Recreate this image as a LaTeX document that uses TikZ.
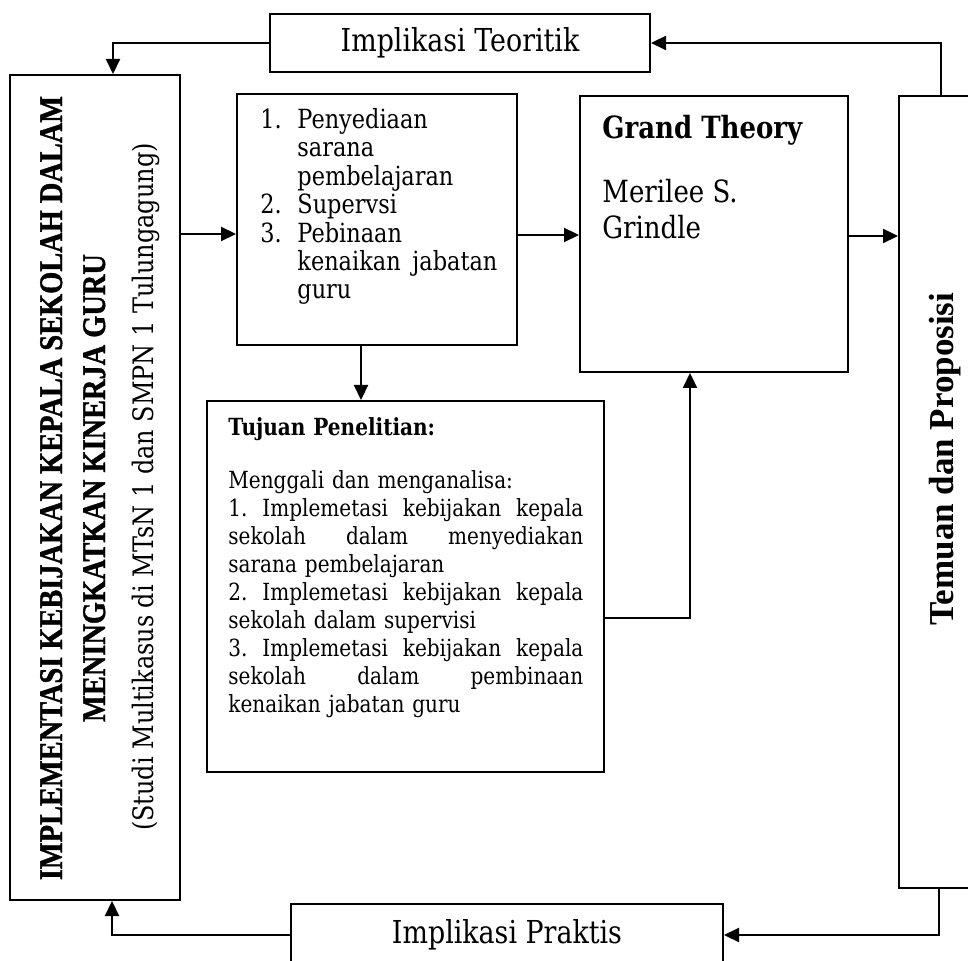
\documentclass[tikz,border=0pt]{standalone}
\usepackage{fontspec}
\usepackage{graphicx}
\setmainfont{Liberation Serif}
\newfontfamily\cmb[FakeStretch=0.85]{DejaVu Serif}
\newcommand{\sempit}[1]{\scalebox{0.86}[1]{#1}}
\usetikzlibrary{arrows.meta}

\begin{document}
\begin{tikzpicture}[x=0.5pt, y=-0.5pt,
    kotak/.style={draw, line width=1pt, inner sep=0pt},
    teks/.style={anchor=north west, inner sep=0pt, align=left},
    panah/.style={line width=1.1pt, -{Triangle[length=7.5pt,width=7pt]}}]
                \useasboundingbox (0,0) rectangle (968,961);
                \clip (0,0) rectangle (968,961);

                \node[kotak, minimum width=190pt, minimum height=29pt,
                    font={\cmb\fontsize{15.8}{18}\selectfont}] (teoritik) at (460,43) {Implikasi Teoritik};
                \node[kotak, minimum width=216pt, minimum height=31pt,
                    font={\cmb\fontsize{15.8}{18}\selectfont}] (praktis) at (507,935) {Implikasi Praktis};

                \node[kotak, minimum width=85pt, minimum height=412.5pt] (judul) at (95,487.5) {};
                \node[rotate=90, anchor=base, font={\fontsize{16.5}{18}\selectfont\bfseries\addfontfeature{FakeBold=1.2}}] (judul1) at (62,488)
                    {\sempit{IMPLEMENTASI KEBIJAKAN KEPALA SEKOLAH DALAM}};
                \node[rotate=90, anchor=base, font={\fontsize{16.5}{18}\selectfont\bfseries\addfontfeature{FakeBold=1.2}}] (judul2) at (105,488)
                    {\sempit{MENINGKATKAN KINERJA GURU}};
                \node[rotate=90, anchor=base, font={\cmb\fontsize{14.1}{16}\selectfont}] (judul3) at (153,487)
                    {(Studi Multikasus di MTsN 1 dan SMPN 1 Tulungagung)};

                \node[kotak, minimum width=140pt, minimum height=125.5pt] (daftar) at (377,219.5) {};
                \node[teks, text width=118.5pt, font={\cmb\fontsize{13.2}{14.2}\selectfont}] (daftarisi) at (260,108)
                    {\makebox[18.5pt][l]{1.}Penyediaan\\
                     \hspace*{18.5pt}sarana\\
                     \hspace*{18.5pt}pembelajaran\\
                     \makebox[18.5pt][l]{2.}Supervsi\\
                     \makebox[18.5pt][l]{3.}Pebinaan\\
                     \hspace*{18.5pt}kenaikan\hfill jabatan\\
                     \hspace*{18.5pt}guru};

                \node[kotak, minimum width=134pt, minimum height=138pt] (grand) at (714,234) {};
                \node[teks, font={\cmb\fontsize{15.3}{18}\selectfont}] (grandisi) at (602,115)
                    {\textbf{Grand Theory}\\[14pt] Merilee S.\\ Grindle};

                \node[kotak, minimum width=198.5pt, minimum height=185.5pt] (tujuan) at (405.5,586.5) {};
                \node[teks, text width=177.5pt, font={\cmb\fontsize{11.8}{14}\selectfont}] (tujuanisi) at (228,417)
                    {\textbf{Tujuan Penelitian:}\\[12.5pt]
                     Menggali dan menganalisa:\\
                     1.\hfill Implemetasi\hfill kebijakan\hfill kepala\\
                     sekolah\hfill dalam\hfill menyediakan\\
                     sarana pembelajaran\\
                     2.\hfill Implemetasi\hfill kebijakan\hfill kepala\\
                     sekolah dalam supervisi\\
                     3.\hfill Implemetasi\hfill kebijakan\hfill kepala\\
                     sekolah\hfill dalam\hfill pembinaan\\
                     kenaikan jabatan guru};

                \node[kotak, minimum width=50.5pt, minimum height=396pt] (temuan) at (949.5,492) {};
                \node[rotate=90, anchor=base, font={\bfseries\fontsize{17.5}{20}\selectfont}] (temuanteks) at (953,459)
                    {Temuan dan Proposisi};

                \draw[panah] (teoritik.west) -| (judul.north -| 113,0);
                \draw[panah] (temuan.north -| 941,0) |- (teoritik.east);
                \draw[panah] (judul.east |- 0,234) -- (daftar.west |- 0,234);
                \draw[panah] (daftar.east |- 0,235) -- (grand.west |- 0,235);
                \draw[panah] (grand.east |- 0,236) -- (temuan.west |- 0,236);
                \draw[panah] (daftar.south -| 361,0) -- (tujuan.north -| 361,0);
                \draw[panah] (tujuan.east |- 0,618) -| (grand.south -| 690,0);
                \draw[panah] (temuan.south -| 939,0) |- (praktis.east);
                \draw[panah] (praktis.west) -| (judul.south -| 112,0);
            \end{tikzpicture}
\end{document}
